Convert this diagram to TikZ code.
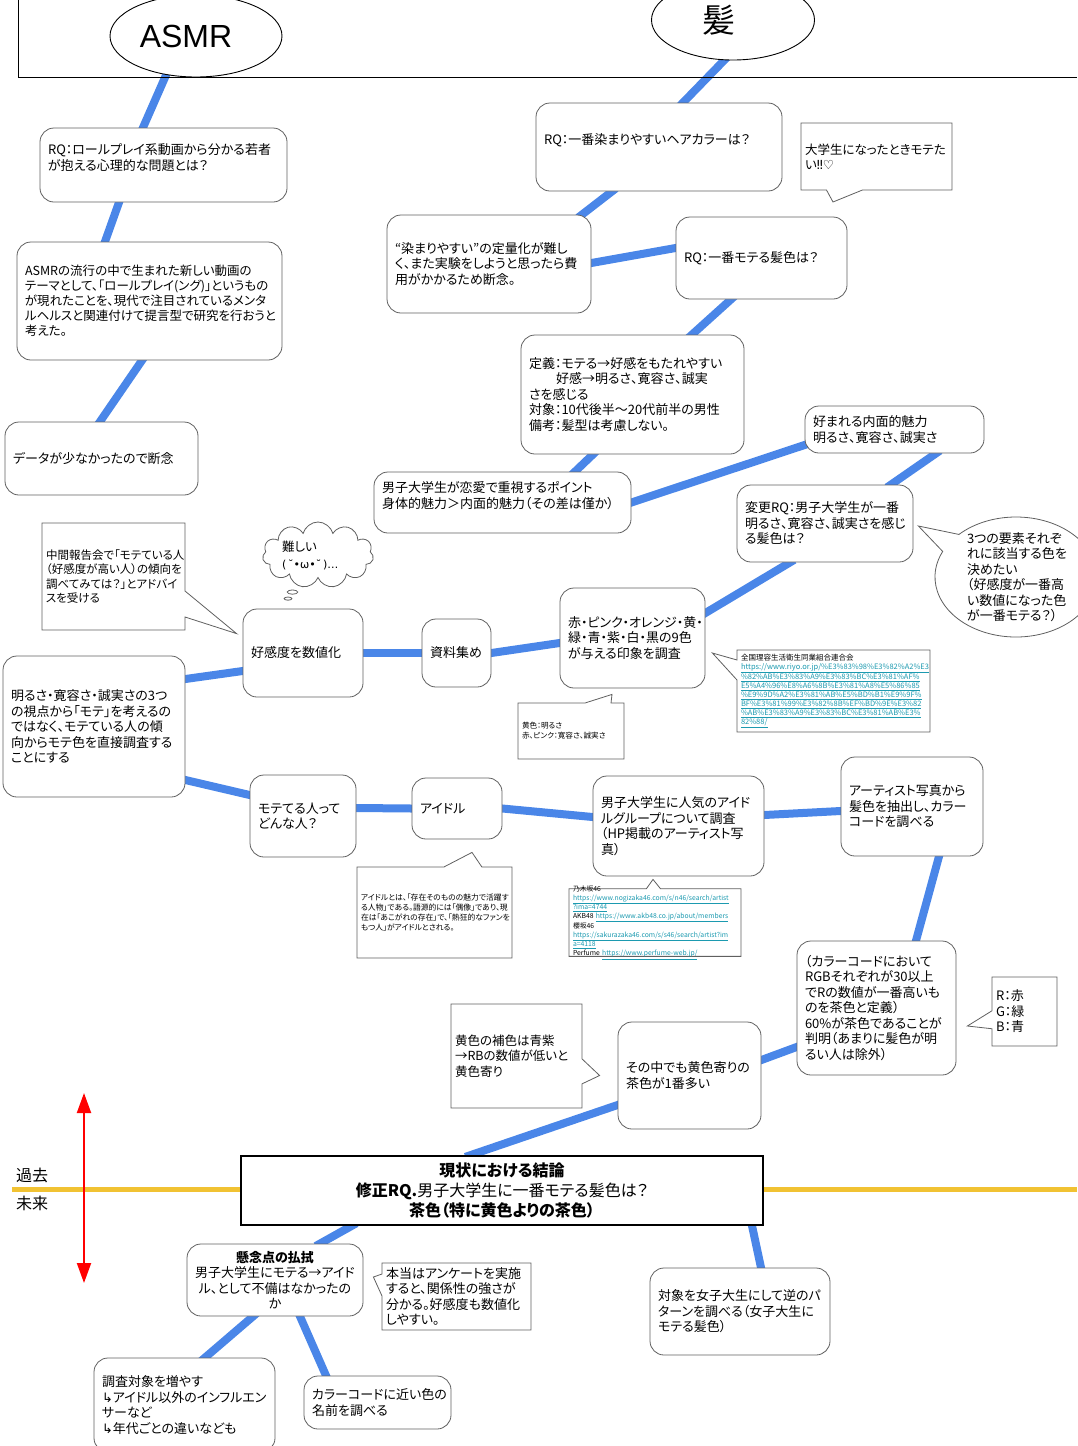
\documentclass[tikz,border=0pt]{standalone}
\usepackage{fontspec}
\setmainfont{Noto Sans CJK JP}[RawFeature=+palt]
\newfontfamily\symfont{DejaVu Sans}
\newfontfamily\latinfont{Liberation Sans}
\usepackage{xcolor}
\usetikzlibrary{arrows.meta,shapes.geometric,shapes.symbols,shapes.callouts,backgrounds}
\definecolor{trunk}{HTML}{4A86E8}
\definecolor{edge}{HTML}{606060}
\definecolor{era}{HTML}{F1C232}
\definecolor{weburl}{HTML}{1C9AB0}
\newcommand\weblink[1]{\textcolor{weburl}{\underline{#1}}}

\begin{document}
\begin{tikzpicture}[x=1pt,y=-1pt,
 card/.style={draw=edge,line width=0.8pt,rounded corners=14pt,fill=white,align=left,inner xsep=8pt,font=\fontsize{13}{15.5}\selectfont},
 note/.style={rectangle callout,draw=edge,line width=0.8pt,fill=white,align=left,inner xsep=4pt,inner ysep=2pt,font=\fontsize{13}{15.5}\selectfont},
 topic/.style={ellipse,draw,line width=0.9pt,fill=white,inner sep=0pt,font=\latinfont\fontsize{32}{32}\selectfont},
 fineprint/.style={font=\fontsize{7.5}{9}\selectfont},
 link/.style={line width=8pt,color=trunk,shorten <=-5pt,shorten >=-5pt}]
 \useasboundingbox (0,0) rectangle (1077,1446);
 \draw[line width=0.9pt] (18,0) |- (1077,77);

 \node[topic,minimum width=172pt,minimum height=82pt] (asmr) at (196,36) {ASMR\kern20pt};
 \node[topic,minimum width=163pt,minimum height=80pt,font=\fontsize{33}{33}\selectfont] (kami) at (733,20) {髪\kern28pt};

 % ASMR side
 \node[card,minimum width=247pt,minimum height=74pt,text width=231pt] (rqa) at (163.5,165) {RQ：ロールプレイ系動画から分かる若者\\が抱える心理的な問題とは？\\\mbox{}};
 \node[card,font=\fontsize{12.5}{15}\selectfont,minimum width=265pt,minimum height=118pt,text width=249pt] (flow) at (149.5,301) {ASMRの流行の中で生まれた新しい動画の\\テーマとして、「ロールプレイ(ング)」というもの\\が現れたことを、現代で注目されているメンタ\\ルヘルスと関連付けて提言型で研究を行おうと\\考えた。};
 \node[card,minimum width=193pt,minimum height=73pt,text width=177pt] (dropa) at (101.5,458.5) {データが少なかったので断念};

 % hair side
 \node[card,minimum width=246pt,minimum height=88pt,text width=230pt] (rqb) at (659,147) {RQ：一番染まりやすいヘアカラーは？\\\mbox{}};
 \node[card,minimum width=204pt,minimum height=98pt,text width=188pt] (dropb) at (489,264) {“染まりやすい”の定量化が難し\\く、また実験をしようと思ったら費\\用がかかるため断念。};
 \node[card,minimum width=171pt,minimum height=82pt,text width=155pt] (rqc) at (761.5,258) {RQ：一番モテる髪色は？};
 \node[card,minimum width=223pt,minimum height=119pt,text width=207pt] (define) at (632.5,394.5) {定義：モテる→好感をもたれやすい\\\hspace*{27pt}好感→明るさ、寛容さ、誠実\\さを感じる\\対象：10代後半～20代前半の男性\\備考：髪型は考慮しない。};
 \node[card,minimum width=257pt,minimum height=61pt,text width=241pt] (survey) at (502.5,502.5) {男子大学生が恋愛で重視するポイント\\身体的魅力＞内面的魅力（その差は僅か）\\\mbox{}};
 \node[card,minimum width=179pt,minimum height=47pt,text width=163pt] (inner) at (894.5,429.5) {好まれる内面的魅力\\明るさ、寛容さ、誠実さ};
 \node[card,minimum width=176pt,minimum height=77pt,text width=160pt] (rqd) at (825,523.5) {変更RQ：男子大学生が一番\\明るさ、寛容さ、誠実さを感じ\\る髪色は？};
 \node[card,minimum width=145pt,minimum height=100pt,text width=129pt] (colours) at (632.5,638) {赤・ピンク・オレンジ・黄・\\緑・青・紫・白・黒の9色\\が与える印象を調査};
 \node[card,minimum width=69pt,minimum height=68pt,text width=53pt] (collect) at (456.5,653) {資料集め};
 \node[card,minimum width=120pt,minimum height=88pt,text width=104pt] (score) at (303,653) {好感度を数値化};
 \node[card,minimum width=182pt,minimum height=141pt,text width=166pt] (direct) at (94,726.5) {明るさ・寛容さ・誠実さの3つ\\の視点から「モテ」を考えるの\\ではなく、モテている人の傾\\向からモテ色を直接調査する\\ことにする};
 \node[card,minimum width=106pt,minimum height=82pt,text width=90pt] (who) at (303,816) {モテてる人って\\どんな人？};
 \node[card,minimum width=90pt,minimum height=61pt,text width=74pt] (idol) at (457,808.5) {アイドル};
 \node[card,minimum width=171pt,minimum height=100pt,text width=155pt] (groups) at (678.5,826) {男子大学生に人気のアイド\\ルグループについて調査\\（HP掲載のアーティスト写\\真）};
 \node[card,minimum width=142pt,minimum height=99pt,text width=126pt] (extract) at (912,806.5) {アーティスト写真から\\髪色を抽出し、カラー\\コードを調べる};
 \node[card,minimum width=159pt,minimum height=134pt,text width=143pt] (brown) at (876.5,1008) {（カラーコードにおいて\\RGBそれぞれが30以上\\でRの数値が一番高いも\\のを茶色と定義）\\60\%が茶色であることが\\判明（あまりに髪色が明\\るい人は除外）};
 \node[card,minimum width=143pt,minimum height=107pt,text width=127pt] (yellow) at (689.5,1075.5) {その中でも黄色寄りの\\茶色が1番多い};

 % conclusion and next steps
 \node[draw,line width=1.4pt,fill=white,align=center,minimum width=522pt,minimum height=69pt,text width=506pt,font=\fontsize{16}{20}\selectfont] (result) at (502,1190.5) {\textbf{現状における結論}\\\textbf{修正RQ.}男子大学生に一番モテる髪色は？\\\textbf{茶色（特に黄色よりの茶色）}};
 \node[card,align=center,minimum width=176pt,minimum height=72pt,text width=160pt] (doubt) at (275,1280) {\textbf{懸念点の払拭}\\男子大学生にモテる→アイド\\ル、として不備はなかったの\\か};
 \node[card,minimum width=181pt,minimum height=94pt,text width=165pt] (widen) at (184.5,1405) {調査対象を増やす\\{\symfont↳}アイドル以外のインフルエン\\サーなど\\{\symfont↳}年代ごとの違いなども};
 \node[card,minimum width=147pt,minimum height=53pt,text width=131pt] (names) at (377.5,1402.5) {カラーコードに近い色の\\名前を調べる};
 \node[card,minimum width=180pt,minimum height=87pt,text width=164pt] (reverse) at (740,1311.5) {対象を女子大生にして逆のパ\\ターンを調べる（女子大生に\\モテる髪色）};

 % side notes
 \node[note,font=\fontsize{12.5}{15}\selectfont,minimum width=151pt,minimum height=67pt,text width=143pt,callout pointer width=36pt,callout absolute pointer={(833,202)}] (wish) at (876.5,156.5) {大学生になったときモテた\\い{\symfont‼♡}};
 \node[note,font=\fontsize{11.5}{14.3}\selectfont,minimum width=143pt,minimum height=107pt,text width=135pt,callout pointer width=26pt,callout absolute pointer={([xshift=-6pt,yshift=-25pt]score.north west)}] (advice) at (113.5,576.5) {中間報告会で「モテている人\\（好感度が高い人）の傾向を\\調べてみては？」とアドバイ\\スを受ける};
 \node[cloud callout,draw=edge,line width=0.8pt,fill=white,cloud puffs=11,cloud ignores aspect,minimum width=111pt,minimum height=66pt,text width=72pt,align=left,inner sep=0pt,font=\fontsize{12.5}{17}\selectfont,callout pointer segments=2,callout pointer start size=.12 of callout,callout pointer end size=.07 of callout,callout absolute pointer={([xshift=-15pt,yshift=10pt]score.north)}] (sigh) at (318,555) {難しい\\\mbox{\symfont\fontsize{11}{17}\selectfont(\,˘•ω•˘\,)…}};
 \node[ellipse callout,draw=edge,line width=0.8pt,fill=white,minimum width=162pt,minimum height=120pt,text width=98pt,align=left,inner xsep=0pt,inner ysep=-8pt,font=\fontsize{13}{15.5}\selectfont,callout pointer arc=20,callout absolute pointer={([xshift=5pt,yshift=-2.5pt]rqd.east)}] (pick) at (1016,577) {3つの要素それぞ\\れに該当する色を\\決めたい\\（好感度が一番高\\い数値になった色\\が一番モテる？）};
 \node[note,fineprint,minimum width=193pt,minimum height=82pt,text width=185pt,callout pointer width=20pt,callout absolute pointer={([xshift=7pt,yshift=-15pt]colours.east)}] (src) at (833.5,691) {全国理容生活衛生同業組合連合会\\\weblink{https://www.riyo.or.jp/\%E3\%83\%98\%E3\%82\%A2\%E3}\\\weblink{\%82\%AB\%E3\%83\%A9\%E3\%83\%BC\%E3\%81\%AF\%}\\\weblink{E5\%A4\%96\%E8\%A6\%8B\%E3\%81\%A8\%E5\%86\%85}\\\weblink{\%E9\%9D\%A2\%E3\%81\%AB\%E5\%BD\%B1\%E9\%9F\%}\\\weblink{BF\%E3\%81\%99\%E3\%82\%8B\%EF\%BD\%9E\%E3\%82}\\\weblink{\%AB\%E3\%83\%A9\%E3\%83\%BC\%E3\%81\%AB\%E3\%}\\\weblink{82\%88/}};
 \node[note,font=\fontsize{7.6}{10}\selectfont,minimum width=106pt,minimum height=56pt,text width=98pt,callout pointer width=26pt,callout absolute pointer={([xshift=-20.5pt,yshift=-6pt]colours.south)}] (impress) at (571,731) {黄色：明るさ\\赤、ピンク：寛容さ、誠実さ};
 \node[note,font=\fontsize{7.8}{10.3}\selectfont,minimum width=155pt,minimum height=91pt,text width=147pt,callout pointer width=38pt,callout absolute pointer={([xshift=15pt,yshift=-13pt]idol.south)}] (idolnote) at (434.5,912.5) {アイドルとは、「存在そのものの魅力で活躍す\\る人物」である。語源的には「偶像」であり、現\\在は「あこがれの存在」で、「熱狂的なファンを\\もつ人」がアイドルとされる。};
 \node[note,font=\fontsize{6.8}{9}\selectfont,inner ysep=-3pt,minimum width=172pt,minimum height=67pt,text width=164pt,callout pointer width=14pt,callout absolute pointer={([xshift=-25.5pt,yshift=-3pt]groups.south)}] (sites) at (655,922.5) {乃木坂46\\\weblink{https://www.nogizaka46.com/s/n46/search/artist}\\\weblink{?ima=4744}\\AKB48~\weblink{https://www.akb48.co.jp/about/members}\\櫻坂46\\\weblink{https://sakurazaka46.com/s/s46/search/artist?im}\\\weblink{a=4118}\\Perfume~\weblink{https://www.perfume-web.jp/}};
 \node[note,minimum width=65pt,minimum height=69pt,text width=57pt,callout pointer width=18pt,callout absolute pointer={([xshift=11pt,yshift=-18pt]brown.east)}] (rgbkey) at (1024.5,1011.5) {R：赤\\G：緑\\B：青};
 \node[note,font=\fontsize{12.5}{15.5}\selectfont,minimum width=131pt,minimum height=104pt,text width=123pt,callout pointer width=25pt,callout absolute pointer={([xshift=-18pt]yellow.west)}] (complement) at (516.5,1056) {黄色の補色は青紫\\→RBの数値が低いと\\黄色寄り};
 \node[note,minimum width=149pt,minimum height=67pt,text width=141pt,callout pointer width=22pt,callout absolute pointer={([xshift=10pt,yshift=3pt]doubt.east)}] (poll) at (456.5,1296.5) {本当はアンケートを実施\\すると、関係性の強さが\\分かる。好感度も数値化\\しやすい。};

 % time axis
 \coordinate (eraL) at (12,1189);
 \coordinate (eraR) at (1077,1189);
 \coordinate (past) at (84,1093);
 \coordinate (future) at (84,1283);
 \node[anchor=west,inner sep=0pt,font=\fontsize{16}{16}\selectfont] (pastlbl) at (16,1175) {過去};
 \node[anchor=west,inner sep=0pt,font=\fontsize{16}{16}\selectfont] (futurelbl) at (16,1203) {未来};
 \draw[red,line width=2pt,{Triangle[length=20pt,width=14pt]}-{Triangle[length=20pt,width=14pt]}] (past) -- (future);

 \begin{scope}[on background layer]
  \draw[era,line width=5pt] (eraL) -- (eraR);
  \draw[link] ([xshift=-31pt]asmr.south) -- ([xshift=-20.5pt]rqa.north);
  \draw[link] ([xshift=-44.5pt]rqa.south) -- ([xshift=-44.5pt]flow.north);
  \draw[link] ([xshift=-7.5pt]flow.south) -- ([xshift=-1.5pt]dropa.north);
  \draw[link] ([xshift=-9pt]kami.south) -- ([xshift=24pt]rqb.north);
  \draw[link] ([xshift=-47pt]rqb.south) -- ([xshift=93pt]dropb.north);
  \draw[link] ([yshift=1pt]dropb.east) -- ([yshift=10pt]rqc.west);
  \draw[link] ([xshift=-30.5pt]rqc.south) -- ([xshift=59.5pt]define.north);
  \draw[link] ([xshift=-39.5pt]define.south) -- ([xshift=72.5pt]survey.north);
  \draw[link] (survey.east) -- ([yshift=-15.5pt]inner.west);
  \draw[link] ([xshift=41.5pt]inner.south) -- ([xshift=66pt]rqd.north);
  \draw[link] ([xshift=-35pt]rqd.south) -- ([yshift=25pt]colours.east);
  \draw[link] ([yshift=-5pt]colours.west) -- (collect.east);
  \draw[link] (collect.west) -- (score.east);
  \draw[link] ([yshift=-18pt]score.west) -- ([yshift=47.5pt]direct.east);
  \draw[link] ([yshift=-53.5pt]direct.east) -- ([yshift=21pt]who.west);
  \draw[link] ([yshift=8pt]who.east) -- (idol.west);
  \draw[link] (idol.east) -- ([yshift=9pt]groups.west);
  \draw[link] ([yshift=11pt]groups.east) -- ([yshift=-4.5pt]extract.west);
  \draw[link] ([xshift=27pt]extract.south) -- ([xshift=39.5pt]brown.north);
  \draw[link] ([yshift=-39pt]brown.west) -- ([yshift=15.5pt]yellow.east);
  \draw[link] ([yshift=-29.5pt]yellow.west) -- ([xshift=-32pt]result.north);
  \draw[link] ([xshift=-150pt]result.south) -- ([xshift=45pt]doubt.north);
  \draw[link] ([xshift=250pt]result.south) -- ([xshift=21pt]reverse.north);
  \draw[link] ([xshift=-22pt]doubt.south) -- ([xshift=20.5pt]widen.north);
  \draw[link] ([xshift=25pt]doubt.south) -- ([xshift=-51.5pt]names.north);
 \end{scope}
\end{tikzpicture}
\end{document}
